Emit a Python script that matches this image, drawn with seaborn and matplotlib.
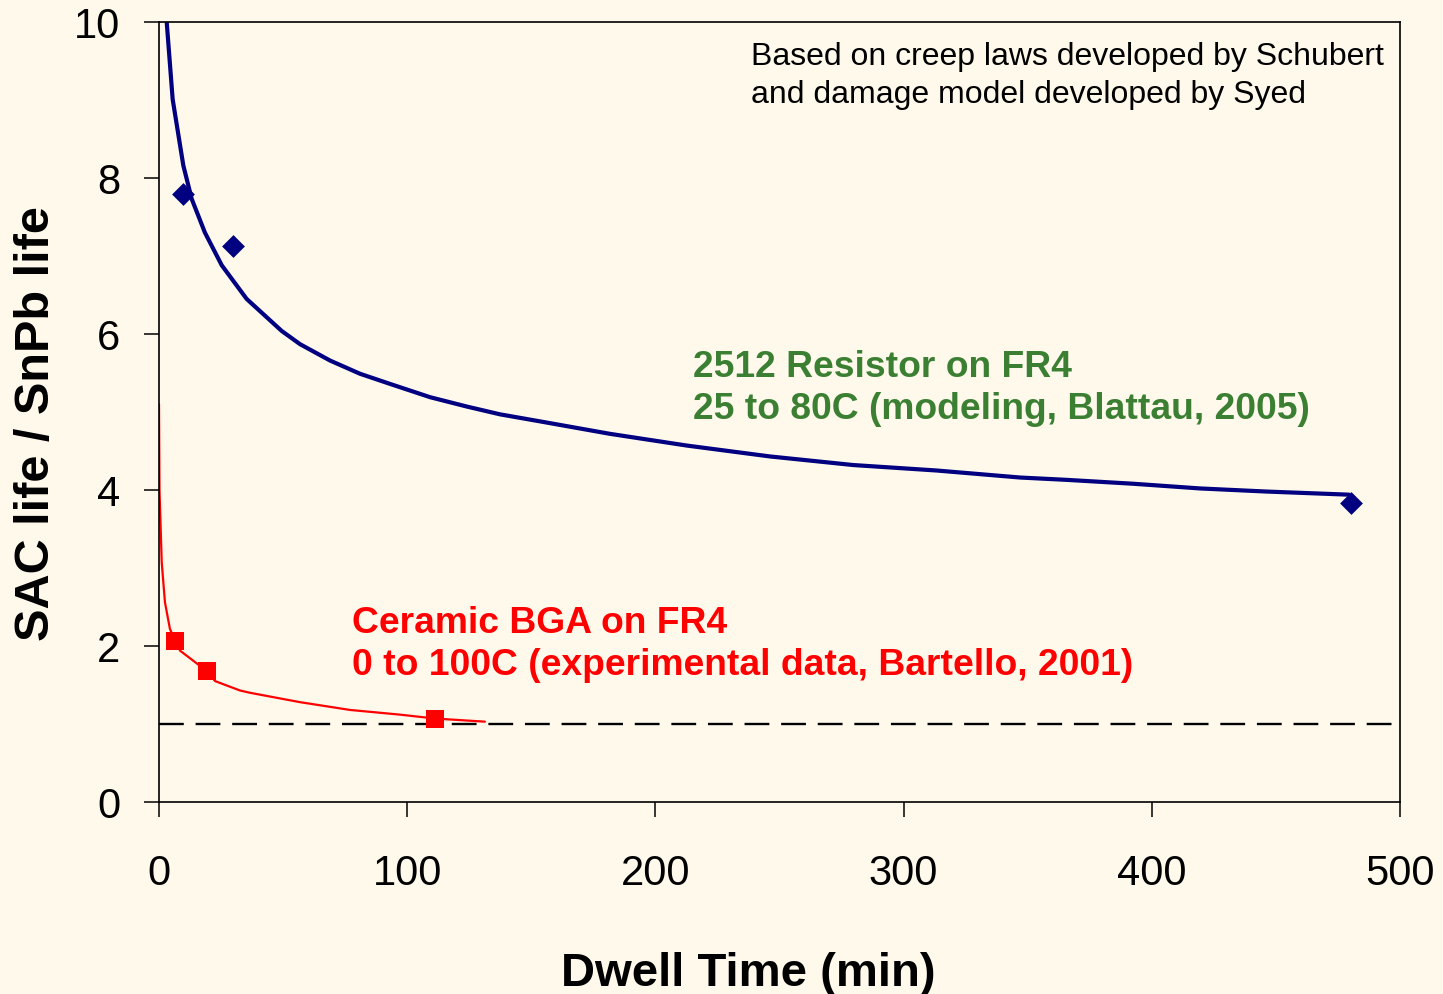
import matplotlib
matplotlib.use("Agg")
import matplotlib.pyplot as plt
import seaborn as sns

# ---- data ----
resistor_curve_x = [3.1, 5.5, 9.8, 13.2, 18.5, 25.3, 35.3, 49.4, 56.8, 68.9, 81.0, 93.1,
                    109.2, 124.0, 137.4, 153.5, 181.7, 212.6, 246.2, 279.7, 313.3, 346.9,
                    365.7, 392.6, 419.4, 446.3, 479.5]
resistor_curve_y = [10.0, 9.01, 8.16, 7.73, 7.30, 6.88, 6.45, 6.04, 5.87, 5.66, 5.49, 5.36,
                    5.19, 5.07, 4.97, 4.88, 4.72, 4.57, 4.43, 4.32, 4.25, 4.16,
                    4.13, 4.08, 4.02, 3.98, 3.94]
resistor_pts_x = [9.8, 29.9, 480.3]
resistor_pts_y = [7.79, 7.13, 3.83]

bga_curve_x = [0.0, 0.2, 1.1, 2.4, 4.4, 6.4, 8.5, 19.2, 22.6, 32.6, 36.7, 56.8, 77.0,
               97.1, 111.2, 131.3]
bga_curve_y = [5.1, 4.0, 3.07, 2.56, 2.22, 2.07, 1.94, 1.68, 1.55, 1.43, 1.40, 1.28, 1.18,
               1.12, 1.07, 1.03]
bga_pts_x = [6.4, 19.2, 111.2]
bga_pts_y = [2.07, 1.68, 1.06]

reference_ratio = 1.0
x_ticks = [0, 100, 200, 300, 400, 500]
y_ticks = [0, 2, 4, 6, 8, 10]

x_label = "Dwell Time (min)"
y_label = "SAC life / SnPb life"
note_text = "Based on creep laws developed by Schubert\nand damage model developed by Syed"
resistor_text = "2512 Resistor on FR4\n25 to 80C (modeling, Blattau, 2005)"
bga_text = "Ceramic BGA on FR4\n0 to 100C (experimental data, Bartello, 2001)"

# ---- style ----
BG = "#FFF9EC"
NAVY = "#000080"
RED = "#FF0000"
GREEN = "#3B7F33"

sns.set_theme(style="ticks")
plt.rcParams["font.family"] = ["Liberation Sans", "DejaVu Sans"]

fig = plt.figure(figsize=(14.43, 9.95), dpi=100, facecolor=BG)
ax = fig.add_axes([159 / 1443, 1 - 803 / 995, (1400 - 159) / 1443, (803 - 23) / 995])
ax.set_facecolor(BG)

# reference line at ratio 1
ax.axhline(reference_ratio, color="black", lw=1.7, dashes=(10.5, 5), zorder=1)

sns.lineplot(x=resistor_curve_x, y=resistor_curve_y, color=NAVY, linewidth=3.0,
             ax=ax, legend=False, zorder=2)
sns.lineplot(x=bga_curve_x, y=bga_curve_y, color=RED, linewidth=1.6,
             ax=ax, legend=False, zorder=2)
sns.scatterplot(x=resistor_pts_x, y=resistor_pts_y, marker="D", s=135, color=NAVY,
                linewidth=0, ax=ax, legend=False, zorder=3)
sns.scatterplot(x=bga_pts_x, y=bga_pts_y, marker="s", s=150, color=RED,
                linewidth=0, ax=ax, legend=False, zorder=3)

ax.set_xlim(0, 500)
ax.set_ylim(0, 10)
ax.set_xticks(x_ticks)
ax.set_yticks(y_ticks)
ax.tick_params(axis="both", direction="out", length=11, width=1.1, color="black",
               labelsize=30, labelcolor="black")
ax.tick_params(axis="x", pad=26)
ax.tick_params(axis="y", pad=17)
for sp in ax.spines.values():
    sp.set_visible(True)
    sp.set_color("black")
    sp.set_linewidth(1.2)

ax.set_xlabel(x_label, fontsize=34, fontweight="bold", color="black")
ax.set_ylabel(y_label, fontsize=35, fontweight="bold", color="black")
ax.xaxis.set_label_coords(0.4746, -0.219)
ax.xaxis.label.set_va("center")
ax.yaxis.set_label_coords(-0.099, 0.486)
ax.yaxis.label.set_va("center")

ax.text(0.477, 0.932, note_text, transform=ax.transAxes, fontsize=23, color="black",
        ha="left", va="center", linespacing=1.32)
ax.text(0.4303, 0.532, resistor_text, transform=ax.transAxes, fontsize=26.8,
        fontweight="bold", color=GREEN, ha="left", va="center", linespacing=1.26)
ax.text(0.1555, 0.2026, bga_text, transform=ax.transAxes, fontsize=26.8,
        fontweight="bold", color=RED, ha="left", va="center", linespacing=1.26)

fig.savefig("out.png", dpi=100, facecolor=BG)
